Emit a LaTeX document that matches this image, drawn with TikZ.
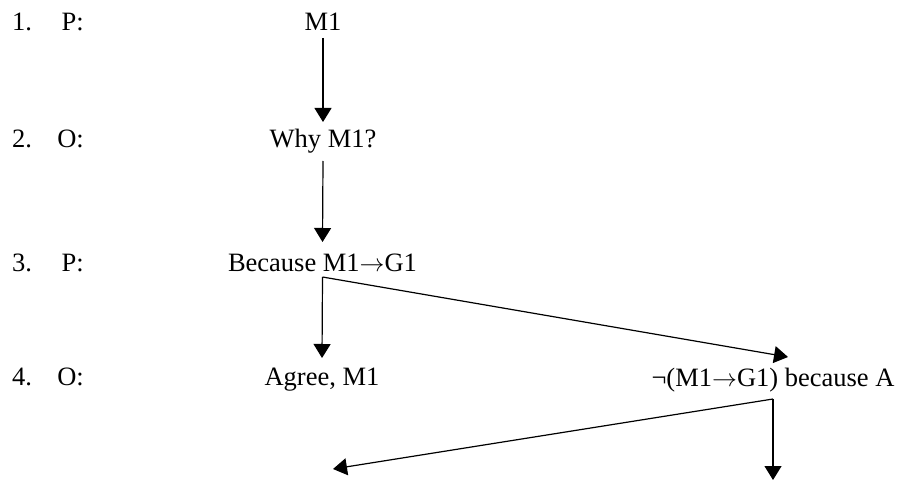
\documentclass[tikz,border=0pt]{standalone}
\usepackage{fontspec}
\setmainfont{Liberation Serif}
\usetikzlibrary{arrows.meta}
\newcommand{\impl}{\ensuremath{\rightarrow}}
\begin{document}
\begin{tikzpicture}[x=1pt,y=-1pt,
  txt/.style={inner sep=0pt,anchor=base,font=\fontsize{26.5}{30}\selectfont},
  num/.style={txt,anchor=base west},
  who/.style={txt,anchor=base east},
  arr/.style={line width=1.2pt,-{Triangle[width=17pt,length=14pt]}}]
\useasboundingbox (0,0) rectangle (901,481);
% move numbers and speakers
\node[num] (n1) at (12,31) {1.};
\node[who] (s1) at (84,31) {P:};
\node[num] (n2) at (12,148) {2.};
\node[who] (s2) at (84,148) {O:};
\node[num] (n3) at (12,271) {3.};
\node[who] (s3) at (84,271) {P:};
\node[num] (n4) at (12,385) {4.};
\node[who] (s4) at (84,385) {O:};
% moves
\node[txt] (m1) at (323,31) {M1};
\node[txt] (why) at (323,148) {Why M1?};
\node[txt] (bec) at (322.5,271) {Because M1\impl G1};
\node[txt] (agr) at (322,385) {Agree, M1};
\node[txt] (neg) at (773,386) {¬(M1\impl G1) because A};
% branch points and open ends
\coordinate (bfork) at ([yshift=-6pt]bec.base);
\coordinate (nfork) at ([yshift=-13pt]neg.base);
\coordinate (endL) at (333,469);
\coordinate (endR) at (773,480);
% connectors
\draw[arr] ([yshift=-7pt]m1.base) -- ([yshift=26pt]why.base);
\draw[arr] ([yshift=-13pt]why.base) -- ([yshift=29pt]bec.base);
\draw[arr] (bfork) -- ([yshift=27pt]agr.base);
\draw[arr] (bfork) -- ([xshift=15pt,yshift=29pt]neg.base);
\draw[arr] (nfork) -- (endL);
\draw[arr] (nfork) -- (endR);
\end{tikzpicture}
\end{document}
